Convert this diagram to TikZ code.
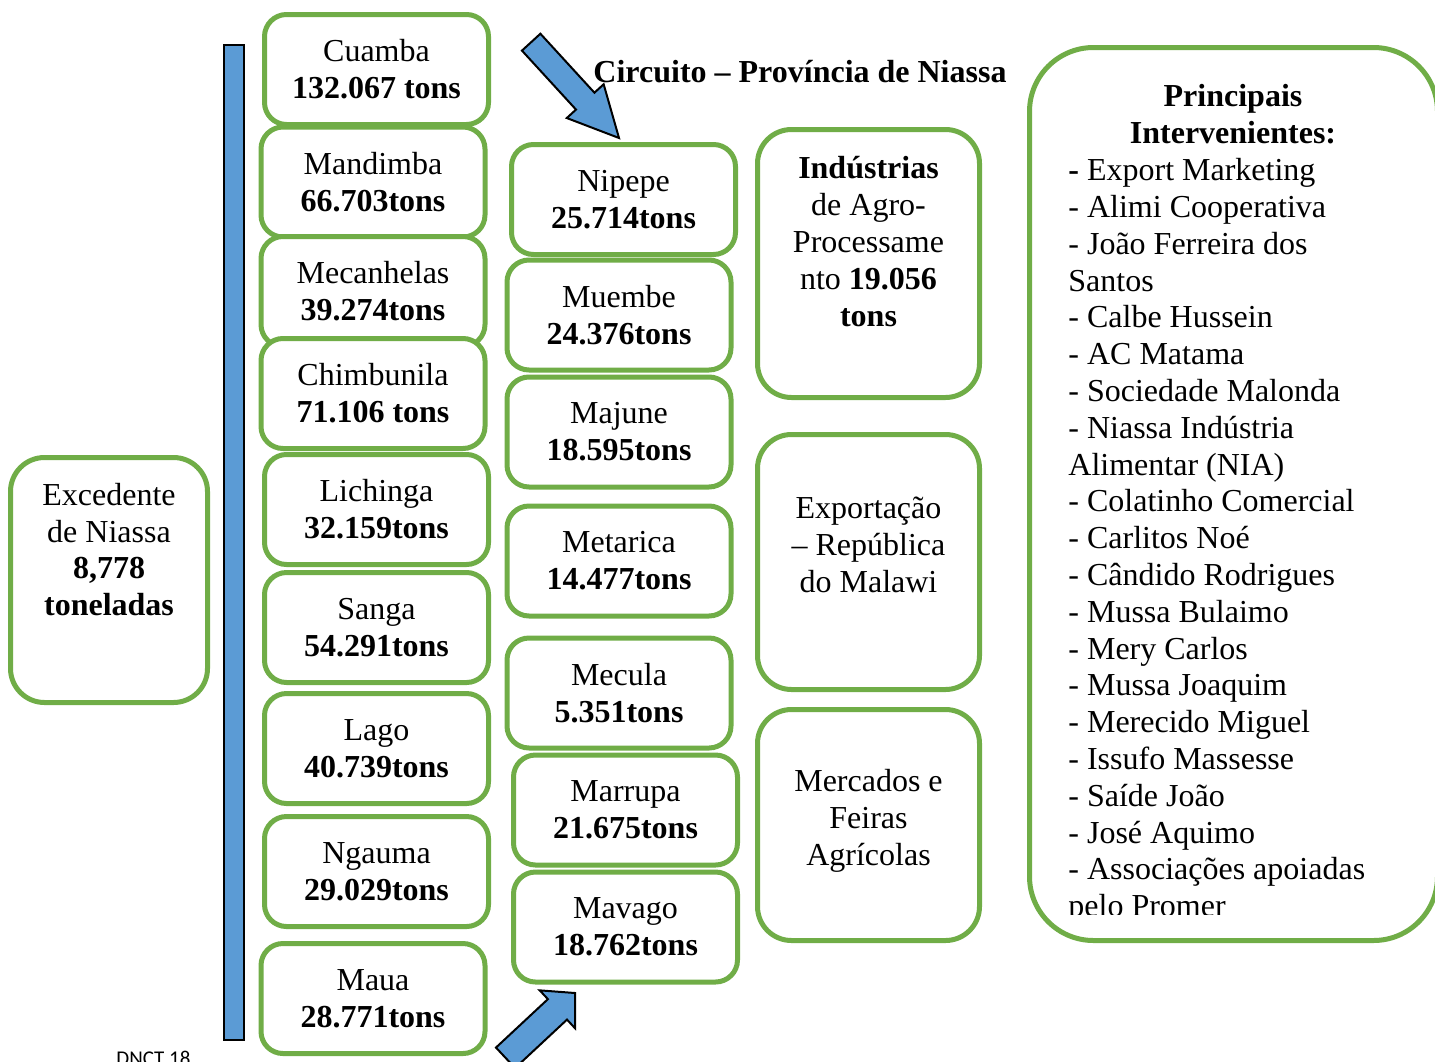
\documentclass[tikz,border=0pt]{standalone}
\usepackage{fontspec}
\setmainfont{Liberation Serif}
\newfontfamily\notefont{Carlito}
\usepackage{tikz}
\usetikzlibrary{positioning}
\definecolor{nigreen}{HTML}{70AD47}
\definecolor{niblue}{HTML}{5B9BD5}
\newcommand{\bodysize}{\fontsize{16}{18.4}\selectfont}
\tikzset{
  cbox/.style={draw=nigreen,line width=2.5pt,fill=white,rounded corners=11pt,align=center,inner sep=0pt,font=\bodysize,minimum width=112pt,minimum height=55pt},
  tallbox/.style={cbox,rounded corners=17pt,minimum width=111pt},
  bigbox/.style={cbox,rounded corners=32pt},
  txt/.style={align=center,inner sep=0pt,font=\bodysize},
  blockarrow/.style={fill=niblue,draw=black,line width=1pt,line join=miter},
}

\begin{document}
\begin{tikzpicture}[x=0.5pt,y=-0.5pt]
  \useasboundingbox (0,0) rectangle (1435,1061);
  % barra azul
  \draw[fill=niblue,draw=black,line width=1pt] (224,45) rectangle (244,1040);
  % excedente
  \node[tallbox,minimum width=98.5pt,minimum height=122.5pt] (exc) at (109,580) {};
  \node[txt] (exct) at (109,549.5) {Excedente\\de Niassa\\\textbf{8,778}\\\textbf{toneladas}};
  % distritos, 1a coluna
  \node[cbox] (cua) at (376.5,69.5) {Cuamba\\\textbf{132.067 tons}};
  \node[cbox] (man) at (373,182) {Mandimba\\\textbf{66.703tons}};
  \node[cbox] (mec) at (373,291.5) {Mecanhelas\\\textbf{39.274tons}};
  \node[cbox] (chi) at (373,393.5) {Chimbunila\\\textbf{71.106 tons}};
  \node[cbox] (lic) at (376.5,509.5) {Lichinga\\\textbf{32.159tons}};
  \node[cbox] (san) at (376.5,627.5) {Sanga\\\textbf{54.291tons}};
  \node[cbox] (lag) at (376.5,748.5) {Lago\\\textbf{40.739tons}};
  \node[cbox] (nga) at (376.5,871.5) {Ngauma\\\textbf{29.029tons}};
  \node[cbox] (mau) at (373,998.5) {Maua\\\textbf{28.771tons}};
  % distritos, 2a coluna
  \node[cbox] (nip) at (623.5,199.5) {Nipepe\\\textbf{25.714tons}};
  \node[cbox] (mue) at (619,315) {Muembe\\\textbf{24.376tons}};
  \node[cbox] (maj) at (619,432) {Majune\\\textbf{18.595tons}};
  \node[cbox] (met) at (619,561) {Metarica\\\textbf{14.477tons}};
  \node[cbox] (mcl) at (619,693) {Mecula\\\textbf{5.351tons}};
  \node[cbox] (mar) at (625.5,810) {Marrupa\\\textbf{21.675tons}};
  \node[cbox] (mav) at (625.5,927) {Mavago\\\textbf{18.762tons}};
  % destinos
  \node[tallbox,minimum height=134pt] (ind) at (868.5,263.5) {};
  \node[txt] (indt) at (868.5,241.5) {\textbf{Indústrias}\\de Agro-\\Processame\\nto \textbf{19.056}\\\textbf{tons}};
  \node[tallbox,minimum height=127.5pt] (exp) at (868.5,562) {};
  \node[txt] (expt) at (868.5,545) {Exportação\\– República\\do Malawi};
  \node[tallbox,minimum height=115.5pt] (mer) at (868.5,825) {};
  \node[txt] (mert) at (868.5,821) {Mercados e\\Feiras\\Agrícolas};
  % intervenientes
  \node[bigbox,minimum width=204pt,minimum height=446.5pt] (int) at (1233.5,494) {};
  \node[txt,font=\bodysize\bfseries] (inth) at (1233,114) {Principais\\Intervenientes:};
  \begin{scope}
    \clip (1029,40) rectangle (1437,914);
    \node[txt,align=left,anchor=north west] (intl) at (1068,158) {\textbf{-} Export Marketing\\- Alimi Cooperativa\\- João Ferreira dos\\Santos\\- Calbe Hussein\\- AC Matama\\- Sociedade Malonda\\- Niassa Indústria\\Alimentar (NIA)\\- Colatinho Comercial\\- Carlitos Noé\\- Cândido Rodrigues\\- Mussa Bulaimo\\- Mery Carlos\\- Mussa Joaquim\\- Merecido Miguel\\- Issufo Massesse\\- Saíde João\\- José Aquimo\\- Associações apoiadas\\pelo Promer};
  \end{scope}
  % titulo
  \node[txt,font=\bodysize\bfseries] (tit) at (800,72) {Circuito – Província de Niassa};
  % setas
  \draw[blockarrow,shift={(619,138)},rotate=-47.5] (0,0) -- (-50,25) -- (-50,12.5) -- (-130,12.5) -- (-130,-12.5) -- (-50,-12.5) -- (-50,-25) -- cycle;
  \draw[blockarrow,shift={(575,993)},rotate=43] (0,0) -- (-24,26) -- (-24,14) -- (-95,14) -- (-95,-14) -- (-24,-14) -- (-24,-26) -- cycle;
  \node[font=\notefont\fontsize{10.5}{12}\selectfont,anchor=north west,inner sep=0pt] (dnct) at (116,1051) {DNCT 18};
\end{tikzpicture}
\end{document}
